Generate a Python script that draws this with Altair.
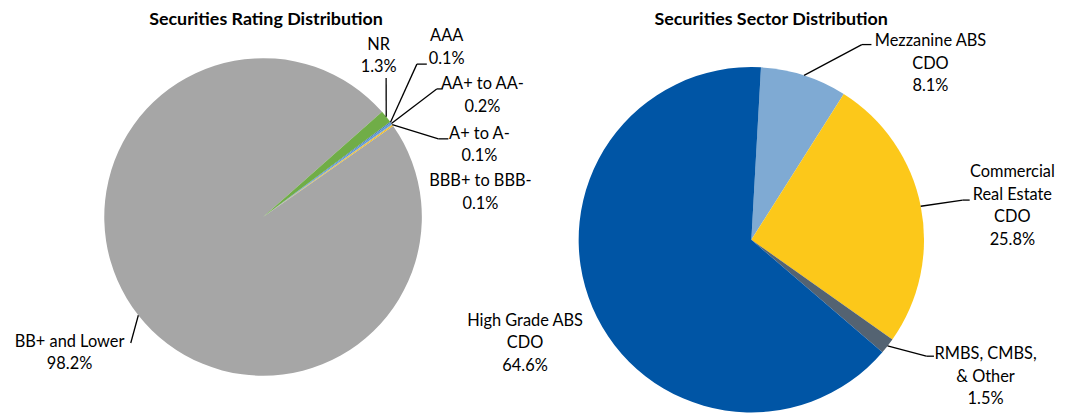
import math
import altair as alt
import pandas as pd

# ---------------- data ----------------
rating_categories = ["AAA", "AA+ to AA-", "A+ to A-", "BBB+ to BBB-", "BB+ and Lower", "NR"]
rating_values = [0.1, 0.2, 0.1, 0.1, 98.2, 1.3]
rating_name_lines = [["AAA"], ["AA+ to AA-"], ["A+ to A-"], ["BBB+ to BBB-"], ["BB+ and Lower"], ["NR"]]

sector_categories = ["Mezzanine ABS CDO", "Commercial Real Estate CDO", "RMBS, CMBS, & Other", "High Grade ABS CDO"]
sector_values = [8.1, 25.8, 1.5, 64.6]
sector_name_lines = [["Mezzanine ABS", "CDO"], ["Commercial", "Real Estate", "CDO"],
                     ["RMBS, CMBS,", "& Other"], ["High Grade ABS", "CDO"]]

titles = ["Securities Rating Distribution", "Securities Sector Distribution"]

# ---------------- styles / layout ----------------
rating_colors = ["#4472C4", "#5B9BD5", "#A5A5A5", "#FFC000", "#A6A6A6", "#70AD47"]
sector_colors = ["#7FAAD3", "#FCC81A", "#546372", "#0055A5"]

OFF = 8  # page margin
W, H = 1059, 406
FONT = "Lato"
LABEL_SIZE = 16.5
TITLE_SIZE = 18
LINE_H = 22.6

left_pie = dict(cx=265 - OFF, cy=217 - OFF, r=160, start=53.2)
right_pie = dict(cx=757 - OFF, cy=240 - OFF, r=174, start=3.2)

# label anchor (center x, y of first line), screen coords
rating_label_pos = [(450, 35), (486, 83.5), (483, 133), (484, 181), (70, 343), (381.5, 43.5)]
sector_label_pos = [(937.5, 40), (1020, 172), (993, 355.5), (529, 321.7)]
# leader line points after the pie-edge point, screen coords (None = no leader)
rating_leaders = [[(420, 63), (430, 63)], [(440, 88), (446, 88)], [(441.7, 138.3), (451.7, 138.3)],
                  None, [(131.7, 344)], [(389, 77)]]
sector_leaders = [[(868.3, 43.3), (878, 43.3)], [(970, 200), (977, 200)],
                  [(933.3, 357.3), (941, 357.3)], None]
title_pos = [(268, 18.5), (777, 18.5)]


def build(categories, values, name_lines, colors, pie, label_pos, leaders):
    total = sum(values)
    df = pd.DataFrame({"cat": categories, "value": values, "idx": list(range(len(values)))})
    s = math.radians(pie["start"])
    arc = alt.Chart(df).mark_arc(outerRadius=pie["r"]).encode(
        theta=alt.Theta("value:Q", stack=True,
                        scale=alt.Scale(domain=[0, total], range=[s, s + 2 * math.pi], nice=False, zero=True)),
        color=alt.Color("cat:N", scale=alt.Scale(domain=categories, range=colors), legend=None),
        order=alt.Order("idx:Q"),
        x=alt.value(pie["cx"]),
        y=alt.value(pie["cy"]),
    )
    # label texts
    rows = []
    for lines, v, (lx, ly) in zip(name_lines, values, label_pos):
        allines = lines + [f"{v:.1f}%"]
        for k, t in enumerate(allines):
            rows.append({"x": lx - OFF, "y": ly - OFF + k * LINE_H, "t": t})
    # leader segments, starting at mid-angle on the pie edge
    segs = []
    cum = 0.0
    for v, lead in zip(values, leaders):
        mid = pie["start"] + (cum + v / 2) / total * 360.0
        cum += v
        if not lead:
            continue
        a = math.radians(mid)
        px = pie["cx"] + pie["r"] * math.sin(a)
        py = pie["cy"] - pie["r"] * math.cos(a)
        for (qx, qy) in lead:
            segs.append({"x": px, "y": py, "x2": qx - OFF, "y2": qy - OFF})
            px, py = qx - OFF, qy - OFF
    return arc, pd.DataFrame(rows), pd.DataFrame(segs)


arc_l, txt_l, seg_l = build(rating_categories, rating_values, rating_name_lines, rating_colors,
                            left_pie, rating_label_pos, rating_leaders)
arc_r, txt_r, seg_r = build(sector_categories, sector_values, sector_name_lines, sector_colors,
                            right_pie, sector_label_pos, sector_leaders)

txt_df = pd.concat([txt_l, txt_r], ignore_index=True)
seg_df = pd.concat([seg_l, seg_r], ignore_index=True)
title_df = pd.DataFrame({"x": [p[0] - OFF for p in title_pos], "y": [p[1] - OFF for p in title_pos], "t": titles})

X = lambda f: alt.X(f, scale=None, axis=None)
Y = lambda f: alt.Y(f, scale=None, axis=None)

rules = alt.Chart(seg_df).mark_rule(color="#000000", strokeWidth=1.3).encode(
    x=X("x:Q"), y=Y("y:Q"), x2="x2:Q", y2="y2:Q")
labels = alt.Chart(txt_df).mark_text(font=FONT, fontSize=LABEL_SIZE, color="#000000",
                                     align="center", baseline="middle").encode(
    x=X("x:Q"), y=Y("y:Q"), text="t:N")
title_marks = alt.Chart(title_df).mark_text(font=FONT, fontSize=TITLE_SIZE, fontWeight="bold", color="#000000",
                                            align="center", baseline="middle").encode(
    x=X("x:Q"), y=Y("y:Q"), text="t:N")

chart = alt.layer(arc_l, arc_r, rules, labels, title_marks).resolve_scale(
    theta="independent", color="independent"
).properties(
    width=W, height=H, padding=0, autosize=alt.AutoSizeParams(type="none")
).configure_view(strokeWidth=0)

chart.save("out.html", embed_options={"renderer": "svg", "actions": False})
